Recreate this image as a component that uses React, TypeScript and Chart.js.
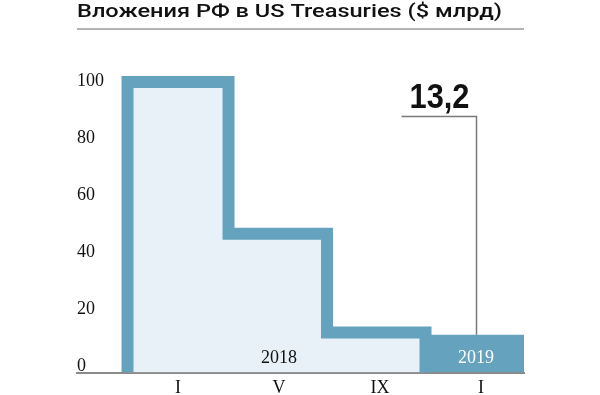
import React, { useEffect, useRef } from "react";
import { Chart, registerables } from "chart.js";

Chart.register(...registerables);

// ---- data ----
const TITLE = "Вложения РФ в US Treasuries ($ млрд)";
// months relative to January 2018 (0 = I 2018)
const X_TICK_MONTHS = [0, 4, 8, 12];
const X_TICK_LABELS = ["I", "V", "IX", "I"];
const Y_TICKS = [0, 20, 40, 60, 80, 100];
// 2018 step periods: start month of each level, and its level ($ bn)
const STEP_STARTS = [-2, 2, 5.9];
const STEP_LEVELS = [101.8, 48.6, 14.0];
const STEP_END = 9.8;
// 2019 bar
const LAST_START = 9.8;
const LAST_VALUE = 13.2;
const LAST_LABEL = "13,2";
const YEAR_LABELS = ["2018", "2019"];
const YEAR_LABEL_MONTHS = [4, 11.8];
const CALLOUT_MONTH = 11.8;
const CALLOUT_TOP = 90;

const X_MIN = -4;
const X_MAX = 13.7;
const Y_MAX = 110;

const TEAL = "#65a2bd";
const LIGHT = "#e8f1f7";
const SERIF = '"Liberation Serif", "Times New Roman", serif';
const SANS = 'Roboto, "Liberation Sans", Arial, sans-serif';
const SANS_BOLD = '"Liberation Sans", Arial, sans-serif';

function stepPoints() {
  const pts: { x: number; y: number }[] = [];
  pts.push({ x: STEP_STARTS[0], y: 0 });
  STEP_STARTS.forEach((s, i) => {
    const end = i + 1 < STEP_STARTS.length ? STEP_STARTS[i + 1] : STEP_END;
    pts.push({ x: s, y: STEP_LEVELS[i] });
    pts.push({ x: end, y: STEP_LEVELS[i] });
  });
  pts.push({ x: STEP_END, y: 0 });
  return pts;
}

const annotations = {
  id: "annotations",
  afterDraw(chart: any) {
    const ctx = chart.ctx as CanvasRenderingContext2D;
    const xs = chart.scales.x;
    const ys = chart.scales.y;
    const area = chart.chartArea;
    ctx.save();
    // title
    ctx.font = `500 18px ${SANS}`;
    ctx.fillStyle = "#111";
    ctx.textAlign = "left";
    ctx.textBaseline = "alphabetic";
    const w = ctx.measureText(TITLE).width;
    const targetW = 425;
    ctx.save();
    ctx.translate(area.left, 17);
    ctx.scale(targetW / w, 1);
    ctx.fillText(TITLE, 0, 0);
    ctx.restore();
    // title rule
    ctx.strokeStyle = "#6a6a6a";
    ctx.lineWidth = 1.2;
    ctx.beginPath();
    ctx.moveTo(area.left, 29);
    ctx.lineTo(area.right, 29);
    ctx.stroke();

    // year labels
    ctx.font = `18px ${SERIF}`;
    ctx.textAlign = "center";
    ctx.textBaseline = "middle";
    YEAR_LABELS.forEach((t, i) => {
      ctx.fillStyle = i === 0 ? "#111" : "#ffffff";
      ctx.fillText(t, xs.getPixelForValue(YEAR_LABEL_MONTHS[i]), ys.getPixelForValue(5));
    });

    // callout
    const cx = Math.round(xs.getPixelForValue(CALLOUT_MONTH)) + 0.5;
    const cyTop = Math.round(ys.getPixelForValue(CALLOUT_TOP)) + 0.5;
    const cyBottom = ys.getPixelForValue(LAST_VALUE);
    ctx.strokeStyle = "#7a7a7a";
    ctx.lineWidth = 1.5;
    ctx.beginPath();
    ctx.moveTo(cx - 75, cyTop);
    ctx.lineTo(cx, cyTop);
    ctx.lineTo(cx, cyBottom);
    ctx.stroke();
    ctx.fillStyle = "#111";
    ctx.font = `bold 35px ${SANS_BOLD}`;
    ctx.textAlign = "center";
    ctx.textBaseline = "alphabetic";
    ctx.save();
    ctx.translate(cx - 37, cyTop - 9);
    ctx.scale(0.88, 1);
    ctx.fillText(LAST_LABEL, 0, 0);
    ctx.restore();
    ctx.restore();
  },
};

export default function App() {
  const ref = useRef<HTMLCanvasElement | null>(null);
  useEffect(() => {
    document.body.style.margin = "0";
    const canvas = ref.current!;
    const chart = new Chart(canvas, {
      type: "line",
      data: {
        datasets: [
          {
            data: stepPoints(),
            borderColor: TEAL,
            backgroundColor: LIGHT,
            borderWidth: 12,
            borderJoinStyle: "miter",
            borderCapStyle: "butt",
            pointRadius: 0,
            tension: 0,
            fill: "origin",
          },
          {
            data: [
              { x: LAST_START, y: LAST_VALUE },
              { x: X_MAX, y: LAST_VALUE },
            ],
            borderWidth: 0,
            borderColor: TEAL,
            backgroundColor: TEAL,
            pointRadius: 0,
            fill: "origin",
          },
        ],
      },
      options: {
        responsive: false,
        animation: false,
        layout: { padding: { left: 77, right: 76, top: 58.5, bottom: -9.1 } },
        plugins: {
          legend: { display: false },
          tooltip: { enabled: false },
          title: { display: false },
        },
        scales: {
          x: {
            type: "linear",
            min: X_MIN,
            max: X_MAX,
            grid: { display: false, drawTicks: false },
            border: { display: true, color: "#8a8a8a", width: 2 },
            afterBuildTicks: (scale: any) => {
              scale.ticks = X_TICK_MONTHS.map((v) => ({ value: v }));
            },
            ticks: {
              padding: 9.5,
              color: "#111",
              font: { family: SERIF, size: 18, lineHeight: 0.7 },
              maxRotation: 0,
              autoSkip: false,
              callback: (v: any) => {
                const i = X_TICK_MONTHS.indexOf(Number(v));
                return i >= 0 ? X_TICK_LABELS[i] : "";
              },
            },
          },
          y: {
            type: "linear",
            min: 0,
            max: Y_MAX,
            grid: { display: false, drawTicks: false },
            border: { display: false },
            afterBuildTicks: (scale: any) => {
              scale.ticks = Y_TICKS.map((v) => ({ value: v }));
            },
            ticks: {
              mirror: true,
              padding: 0,
              labelOffset: -6,
              color: "#111",
              font: { family: SERIF, size: 18, lineHeight: 0.1 },
              callback: (v: any) => String(v),
            },
          },
        },
      },
      plugins: [annotations],
    });
    return () => chart.destroy();
  }, []);
  return (
    <div style={{ width: 600, height: 395 }}>
      <canvas ref={ref} width={600} height={395} style={{ display: "block" }} />
    </div>
  );
}
